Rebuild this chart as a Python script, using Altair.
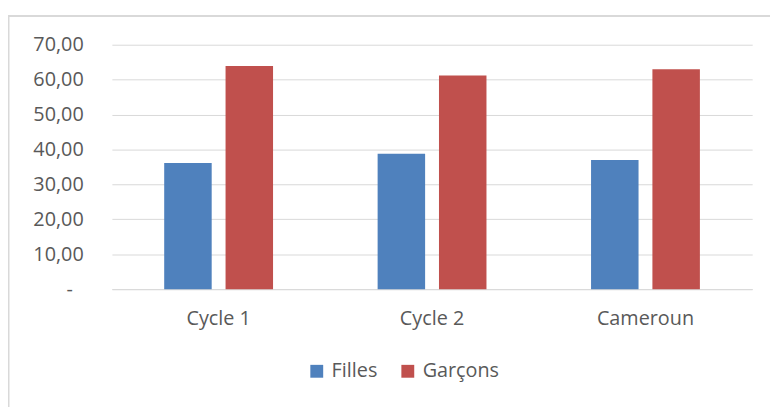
import altair as alt
import pandas as pd

categories = ["Cycle 1", "Cycle 2", "Cameroun"]
filles = [36.1, 38.8, 37.0]
garcons = [63.9, 61.2, 63.0]
series = ["Filles", "Garçons"]
colors = ["#4F81BD", "#C0504D"]
y_ticks = [0, 10, 20, 30, 40, 50, 60, 70]

rows = []
for c, f, g in zip(categories, filles, garcons):
    rows.append({"cat": c, "sexe": "Filles", "val": f})
    rows.append({"cat": c, "sexe": "Garçons", "val": g})
df = pd.DataFrame(rows)

FONT = "Open Sans"
TXT = "#595959"
GRID = "#D9D9D9"

bars = alt.Chart(df).mark_bar().encode(
    x=alt.X("cat:N", sort=categories, title=None,
            scale=alt.Scale(paddingInner=0.49, paddingOuter=0.245),
            axis=alt.Axis(labelAngle=0, ticks=False, domain=True, domainColor=GRID,
                          labelFont=FONT, labelFontSize=20, labelColor=TXT,
                          labelPadding=20)),
    xOffset=alt.XOffset("sexe:N", sort=series,
                        scale=alt.Scale(paddingInner=0.226, paddingOuter=0)),
    y=alt.Y("val:Q", title=None,
            scale=alt.Scale(domain=[0, 70], nice=False),
            axis=alt.Axis(values=y_ticks, ticks=False, domain=False,
                          gridColor=GRID, gridWidth=1,
                          labelFont=FONT, labelFontSize=20, labelColor=TXT,
                          labelPadding={"condition": {"test": "datum.value == 0", "value": 40}, "value": 29},
                          labelExpr="datum.value == 0 ? '-' : replace(format(datum.value, '.2f'), '.', ',')")),
    color=alt.Color("sexe:N", sort=series,
                    scale=alt.Scale(domain=series, range=colors),
                    legend=alt.Legend(title=None, orient="none", direction="horizontal",
                                      legendX=197, legendY=320, padding=0,
                                      symbolType="square", symbolSize=169,
                                      symbolStrokeWidth=0, symbolOpacity=1,
                                      labelFont=FONT, labelFontSize=20, labelColor=TXT,
                                      labelOffset=5, columnPadding=20)),
)

frame_top = alt.Chart(pd.DataFrame({"a": [0]})).mark_rule(color=GRID, strokeWidth=2).encode(
    x=alt.value(-105), x2=alt.value(670), y=alt.value(-29)
)
frame_left = alt.Chart(pd.DataFrame({"a": [0]})).mark_rule(color=GRID, strokeWidth=2).encode(
    x=alt.value(-104.5), y=alt.value(-30), y2=alt.value(400)
)

chart = alt.layer(frame_top, frame_left, bars).properties(
    width=647, height=247,
    padding={"left": 105, "top": 35, "right": 18, "bottom": 117},
    autosize=alt.AutoSizeParams(type="none"),
    background="white",
).configure_view(stroke=None)

chart.save("out.html", embed_options={"renderer": "svg", "actions": False})
